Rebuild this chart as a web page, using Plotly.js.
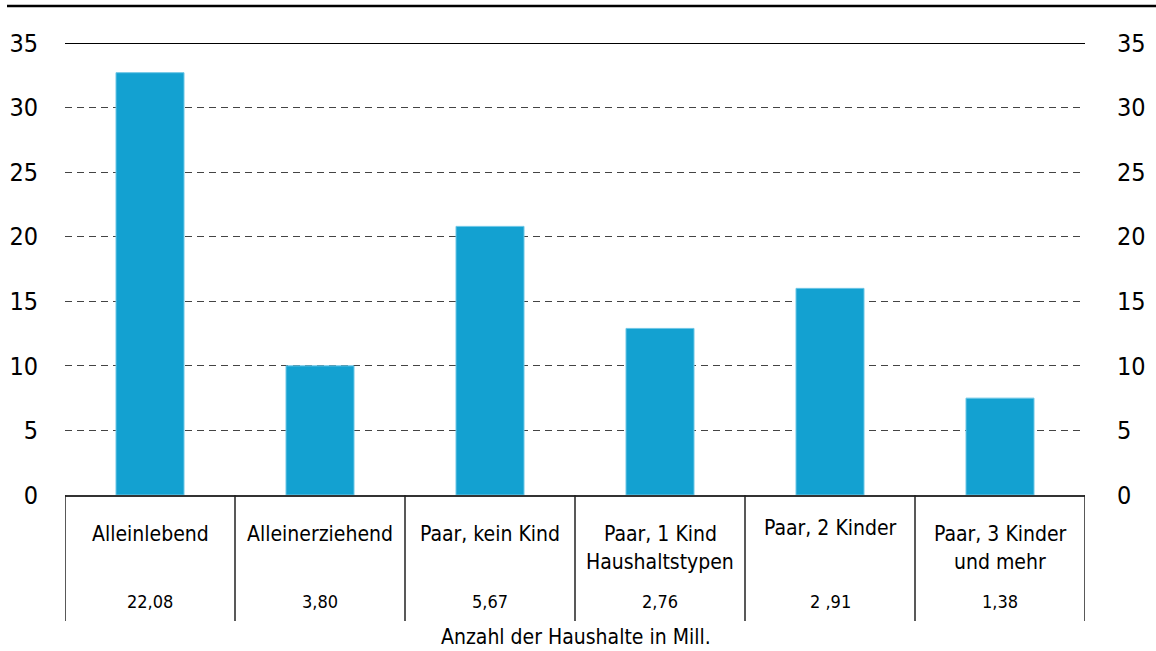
<!DOCTYPE html>
<html>
<head>
<meta charset="utf-8">
<script src="https://cdn.plot.ly/plotly-3.0.1.min.js"></script>
<style>html,body{margin:0;padding:0;background:#fff;}#chart{width:1156px;height:651px;}</style>
</head>
<body>
<div id="chart"></div>
<script>
// Data
const categories = ["Alleinlebend", "Alleinerziehend", "Paar, kein Kind", "Paar, 1 Kind<br>Haushaltstypen", "Paar, 2 Kinder", "Paar, 3 Kinder<br>und mehr"];
const shares = [32.7, 10.0, 20.8, 12.9, 16.0, 7.5];
const householdsMill = ["22,08", "3,80", "5,67", "2,76", "2 ,91", "1,38"];
const yTicks = [0, 5, 10, 15, 20, 25, 30, 35];
const bottomTitle = "Anzahl der Haushalte in Mill.";

const FONT = "'Liberation Sans Narrow', 'DejaVu Sans Condensed', 'Noto Sans', sans-serif";
const W = 1156, H = 651;
const M = {l: 65, r: 71, t: 43, b: 156};
const plotH = H - M.t - M.b;
const py = (pix) => (H - M.b - pix) / plotH; // pixel y -> paper y
const px = (pix) => (pix - M.l) / (W - M.l - M.r);

const xIdx = categories.map((c, i) => i);

const traces = [
  {
    type: 'bar', x: xIdx, y: shares, width: 0.4,
    marker: {color: '#13A1D1', line: {color: '#6cc6e6', width: 1}},
    hoverinfo: 'skip', showlegend: false
  },
  {
    type: 'scatter', mode: 'none', x: xIdx, y: shares, yaxis: 'y2',
    hoverinfo: 'skip', showlegend: false
  }
];

const shapes = [];
// table separators
for (let i = 0; i <= categories.length; i++) {
  shapes.push({type: 'line', xref: 'x', yref: 'paper', x0: i - 0.5, x1: i - 0.5,
    y0: 0, y1: py(621), line: {color: '#222', width: 1.5}});
}
// top solid gridline at max
shapes.push({type: 'line', xref: 'paper', yref: 'y', x0: 0, x1: 1, y0: yTicks[yTicks.length-1], y1: yTicks[yTicks.length-1],
  line: {color: '#000', width: 1.8}});
// top rule
shapes.push({type: 'line', xref: 'paper', yref: 'paper', x0: px(7), x1: px(1156), y0: py(6), y1: py(6),
  line: {color: '#000', width: 2.5}});

const annotations = [];
categories.forEach((c, i) => {
  const lines = c.split('<br>');
  const top = (i === 4) ? 528 : 534;
  lines.forEach((ln, k) => {
    annotations.push({xref: 'x', yref: 'paper', x: i, y: py(top + k * 28), text: ln, showarrow: false,
      xanchor: 'center', yanchor: 'middle', font: {family: FONT, size: 21, color: '#000'}});
  });
  annotations.push({xref: 'x', yref: 'paper', x: i, y: py(601), text: householdsMill[i], showarrow: false,
    xanchor: 'center', yanchor: 'middle', font: {family: FONT, size: 18, color: '#000'}});
});
annotations.push({xref: 'paper', yref: 'paper', x: px(576), y: py(637), text: bottomTitle, showarrow: false,
  xanchor: 'center', yanchor: 'middle', font: {family: FONT, size: 21, color: '#000'}});

const yCommon = {
  range: [0, 35], tickvals: yTicks, ticktext: yTicks.map(String),
  tickfont: {family: FONT, size: 25, color: '#000'},
  ticks: 'outside', tickcolor: 'rgba(0,0,0,0)', zeroline: false, showline: false, fixedrange: true
};

const layout = {
  width: W, height: H,
  margin: M,
  paper_bgcolor: '#fff', plot_bgcolor: '#fff',
  showlegend: false,
  bargap: 0.6,
  xaxis: {range: [-0.5, categories.length - 0.5], showticklabels: false, ticks: '', showgrid: false,
    zeroline: false, showline: true, linecolor: '#333', linewidth: 1.5, fixedrange: true},
  yaxis: Object.assign({}, yCommon, {side: 'left', ticklen: 21, showgrid: true,
    gridcolor: '#444', gridwidth: 1.2, griddash: '7px,5px'}),
  yaxis2: Object.assign({}, yCommon, {side: 'right', overlaying: 'y', ticklen: 26, showgrid: false}),
  shapes: shapes,
  annotations: annotations
};

Plotly.newPlot('chart', traces, layout, {staticPlot: true, displayModeBar: false});
</script>
</body>
</html>
